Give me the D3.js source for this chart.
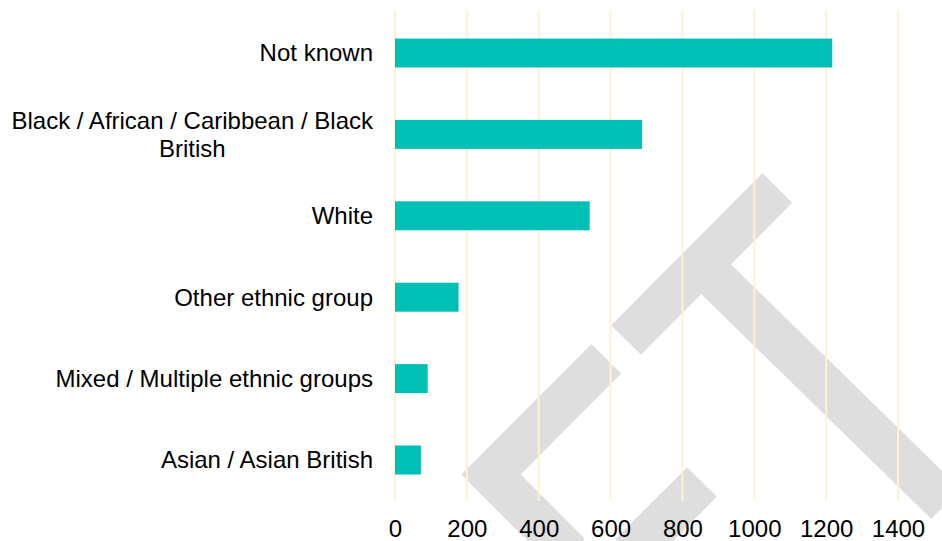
<!DOCTYPE html>
<html>
<head>
<meta charset="utf-8">
<script src="https://cdn.jsdelivr.net/npm/d3@7"></script>
<style>
  html, body { margin: 0; padding: 0; background: #ffffff; }
  svg { display: block; }
  text { font-family: "Liberation Sans", Arial, sans-serif; fill: #000; }
</style>
</head>
<body>
<svg id="chart" width="942" height="541"></svg>
<script>
const categories = [
  "Not known",
  "Black / African / Caribbean / Black British",
  "White",
  "Other ethnic group",
  "Mixed / Multiple ethnic groups",
  "Asian / Asian British"
];
const values = [1217, 688, 542, 177, 91, 72];
const tickValues = [0, 200, 400, 600, 800, 1000, 1200, 1400];

const W = 942, H = 541;
const svg = d3.select("#chart");

const x = d3.scaleLinear().domain([0, 1400]).range([395, 898]);
const y = d3.scaleBand().domain(categories).range([12.3, 500.7])
  .paddingInner(0.644).paddingOuter(0.322);

// watermark (decorative logo behind the chart)
const wm = svg.append("g").attr("class", "watermark");
const wmPaths = [
  [[626, 340], [777.3, 188]],
  [[701, 264.5], [946, 504]],
  [[606.3, 358.7], [491, 474.5], [570, 553.5]],
  [[702, 482], [630, 554]]
];
wmPaths.forEach(p => {
  wm.append("path")
    .attr("d", d3.line()(p))
    .attr("fill", "none")
    .attr("stroke", "#dedede")
    .attr("stroke-width", 42)
    .attr("stroke-linecap", "butt")
    .attr("stroke-linejoin", "miter");
});

// gridlines
svg.append("g").selectAll("line").data(tickValues).join("line")
  .attr("x1", d => x(d)).attr("x2", d => x(d))
  .attr("y1", 10).attr("y2", 501)
  .attr("stroke", "#fff1d6").attr("stroke-width", 2);

// bars
svg.append("g").selectAll("rect").data(categories).join("rect")
  .attr("x", x(0))
  .attr("y", d => y(d))
  .attr("width", (d, i) => x(values[i]) - x(0))
  .attr("height", y.bandwidth())
  .attr("fill", "#00bfb4");

// x axis tick labels
const fontSize = 24;
const xAxis = d3.axisBottom(x).tickValues(tickValues).tickFormat(d3.format("d"))
  .tickSize(0).tickPadding(0);
const gx = svg.append("g").attr("transform", "translate(0,520)").call(xAxis);
gx.select(".domain").remove();
gx.selectAll("text")
  .attr("font-size", fontSize + "px")
  .attr("font-family", "'Liberation Sans', Arial, sans-serif")
  .attr("fill", "#000")
  .attr("dy", "0.71em");

// category labels with wrapping
const maxW = 370, lineH = 28.4, rightX = 373;
const measure = svg.append("text").attr("font-size", fontSize + "px").attr("visibility", "hidden");
function wrap(str) {
  const words = str.split(" ");
  const lines = [];
  let cur = "";
  words.forEach(w => {
    const test = cur ? cur + " " + w : w;
    measure.text(test);
    if (measure.node().getComputedTextLength() > maxW && cur) {
      lines.push(cur); cur = w;
    } else cur = test;
  });
  if (cur) lines.push(cur);
  return lines;
}
const labels = svg.append("g");
categories.forEach(c => {
  const lines = wrap(c);
  const widths = lines.map(l => { measure.text(l); return measure.node().getComputedTextLength(); });
  const blockW = d3.max(widths);
  const cy = y(c) + y.bandwidth() / 2;
  const t = labels.append("text")
    .attr("font-size", fontSize + "px")
    .attr("text-anchor", lines.length > 1 ? "middle" : "end");
  lines.forEach((l, i) => {
    t.append("tspan")
      .attr("x", lines.length > 1 ? rightX - blockW / 2 : rightX)
      .attr("y", cy + (i - (lines.length - 1) / 2) * lineH)
      .attr("dy", "0.35em")
      .text(l);
  });
});
measure.remove();
</script>
</body>
</html>
